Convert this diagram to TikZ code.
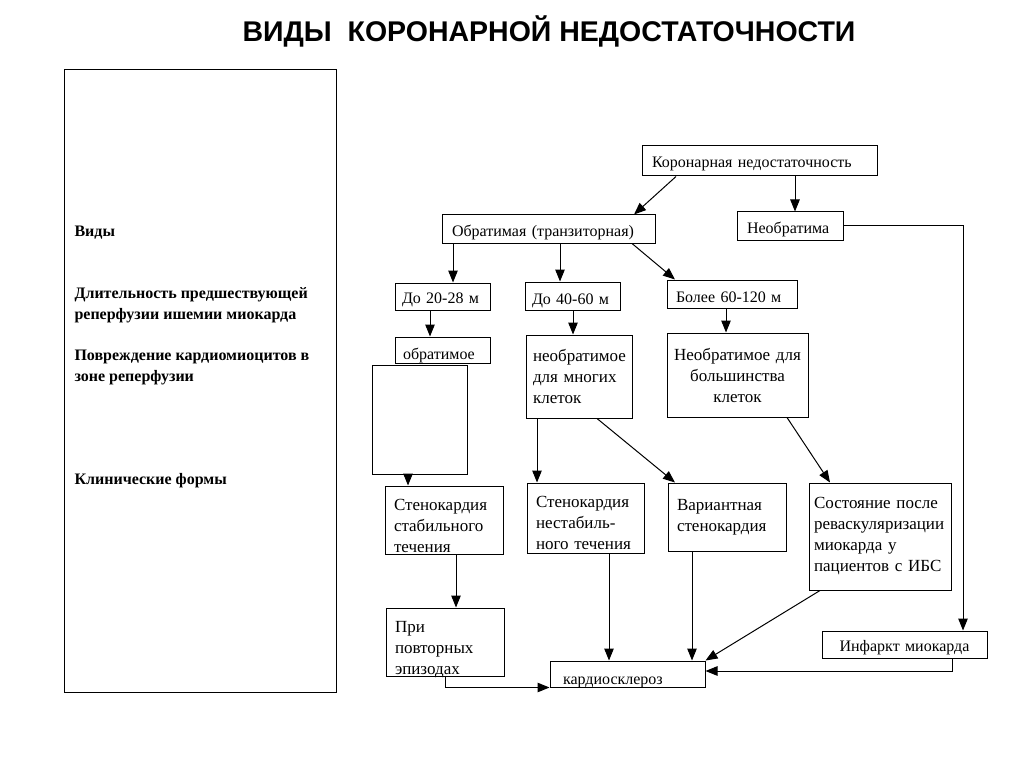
\documentclass[tikz,border=0pt]{standalone}
\usepackage{fontspec}
\setmainfont{Liberation Serif}
\newfontfamily\headfont{Liberation Sans}
\usetikzlibrary{
		calc,
		positioning,
		arrows.meta
	}
\tikzset{
		>={Triangle[length=12pt,width=9.5pt]}
	}
\newcommand{\Sink}[2]{\raisebox{-#1}[\height][\depth]{\begin{tabular}{@{}l@{}}#2\end{tabular}}}

\begin{document}
\begin{tikzpicture}[x=1pt, y=-1pt,
				box/.style={draw, line width=1pt, inner sep=0pt, align=left, font=\fontsize{16}{20}\selectfont},
				bigbox/.style={box, font=\fontsize{17}{21}\selectfont},
				side/.style={anchor=west, align=left, font=\fontsize{16}{21}\selectfont\bfseries},
				link/.style={->, line width=1pt}]
	\useasboundingbox (0,0) rectangle (1024,767);
	\node[font=\headfont\bfseries\fontsize{28.5}{32}\selectfont] (title) at (549,31) {ВИДЫ\ \ КОРОНАРНОЙ НЕДОСТАТОЧНОСТИ};
	% left panel
	\node[draw, line width=1pt, minimum width=272pt, minimum height=622pt, inner sep=0pt] (panel) at (200,381) {};
	\node[side] (vidy) at (71,233) {Виды};
	\node[side] (dlit) at (71,305.5) {Длительность предшествующей\\реперфузии ишемии миокарда};
	\node[side] (povr) at (71,367) {Повреждение кардиомиоцитов в\\зоне реперфузии};
	\node[side] (klin) at (71,481) {Клинические формы};
	% scheme
	\node[box, minimum width=235pt, text width=215pt, minimum height=30pt] (kn) at (759.5,161) {\Sink{3pt}{Коронарная недостаточность}};
	\node[box, minimum width=213pt, text width=193pt, minimum height=28pt] (obr) at (548.5,229) {\Sink{4pt}{Обратимая (транзиторная)}};
	\node[box, minimum width=106pt, text width=86pt, minimum height=28pt] (neobr) at (790,226) {\Sink{4pt}{Необратима}};
	\node[box, minimum width=95pt, text width=81pt, minimum height=27pt] (d20) at (442.5,296.5) {\Sink{3pt}{До 20-28 м}};
	\node[box, minimum width=95pt, text width=81pt, minimum height=28pt] (d40) at (572.5,296) {\Sink{4pt}{До 40-60 м}};
	\node[box, minimum width=130pt, text width=112pt, minimum height=28pt] (bol) at (732,294) {\Sink{4pt}{Более 60-120 м}};
	\node[box, minimum width=95pt, text width=79pt, minimum height=26pt] (obrm) at (442.5,350) {\Sink{5pt}{обратимое}};
	\node[box, minimum width=95pt, minimum height=109pt] (blank) at (419.5,419.5) {};
	\node[bigbox, minimum width=106pt, text width=92pt, minimum height=83pt] (mnog) at (579,376.5) {необратимое\\для многих\\клеток};
	\node[bigbox, minimum width=141pt, text width=135pt, minimum height=84pt, align=center] (bolsh) at (737.5,375) {Необратимое для\\большинства\\клеток};
	\node[bigbox, minimum width=118pt, text width=100pt, minimum height=68pt] (stab) at (444,520) {\Sink{7pt}{Стенокардия\\стабильного\\течения}};
	\node[bigbox, minimum width=117pt, text width=99pt, minimum height=70pt] (nestab) at (585.5,518) {\Sink{6pt}{Стенокардия\\нестабиль-\\ного течения}};
	\node[bigbox, minimum width=118pt, text width=100pt, minimum height=68pt] (var) at (727,517) {Вариантная\\стенокардия};
	\node[bigbox, minimum width=142pt, text width=132pt, minimum height=107pt] (sost) at (880,536.5) {Состояние~после\\реваскуляризации\\миокарда~у\\пациентов~с~ИБС};
	\node[bigbox, minimum width=118pt, text width=100pt, minimum height=68pt] (pri) at (445,642) {\Sink{7pt}{При\\повторных\\эпизодах}};
	\node[box, minimum width=155pt, text width=129pt, minimum height=26pt] (kard) at (627.5,674) {\Sink{6pt}{кардиосклероз}};
	\node[box, minimum width=165pt, text width=150pt, minimum height=27pt, align=center] (inf) at (904.5,644.5) {\Sink{3pt}{Инфаркт миокарда}};
	% arrows
	\draw[link] ([xshift=-83.5pt]kn.south) -- ([xshift=85.5pt]obr.north);
	\draw[link] ([xshift=35.5pt]kn.south) -- ([xshift=35.5pt]kn.south |- neobr.north);
	\draw[link] ([xshift=-95.5pt]obr.south) -- ([xshift=-95.5pt]obr.south |- d20.north);
	\draw[link] ([xshift=11.5pt]obr.south) -- ([xshift=11.5pt]obr.south |- d40.north);
	\draw[link] ([xshift=83.5pt]obr.south) -- ([xshift=-57pt]bol.north);
	\draw[link] ([xshift=-12.5pt]d20.south) -- ([xshift=-12.5pt]d20.south |- obrm.north);
	\draw[link] ([xshift=0.5pt]d40.south) -- ([xshift=0.5pt]d40.south |- mnog.north);
	\draw[link] ([xshift=-6pt]bol.south) -- ([xshift=-6pt]bol.south |- bolsh.north);
	\draw[link] ([xshift=-11.5pt]blank.south) -- ([xshift=-11.5pt]blank.south |- stab.north);
	\draw[link] ([xshift=-42pt]mnog.south) -- ([xshift=-42pt]mnog.south |- nestab.north);
	\draw[link] ([xshift=18pt]mnog.south) -- ([xshift=-52pt]var.north);
	\draw[link] ([xshift=49.5pt]bolsh.south) -- ([xshift=-50pt]sost.north);
	\draw[link] ([xshift=12pt]stab.south) -- ([xshift=12pt]stab.south |- pri.north);
	\draw[link] ([xshift=23.5pt]nestab.south) -- ([xshift=23.5pt]nestab.south |- kard.north);
	\draw[link] ([xshift=-35pt]var.south) -- ([xshift=-35pt]var.south |- kard.north);
	\draw[link] ([xshift=-60pt]sost.south) -- (kard.north east);
	\draw[link] (pri.south) |- (kard.south west);
	\draw[link] ([xshift=47.5pt]inf.south) |- ([yshift=3pt]kard.east);
	\draw[link] (neobr.east) -| ([xshift=58.5pt]inf.north);
\end{tikzpicture}
\end{document}
